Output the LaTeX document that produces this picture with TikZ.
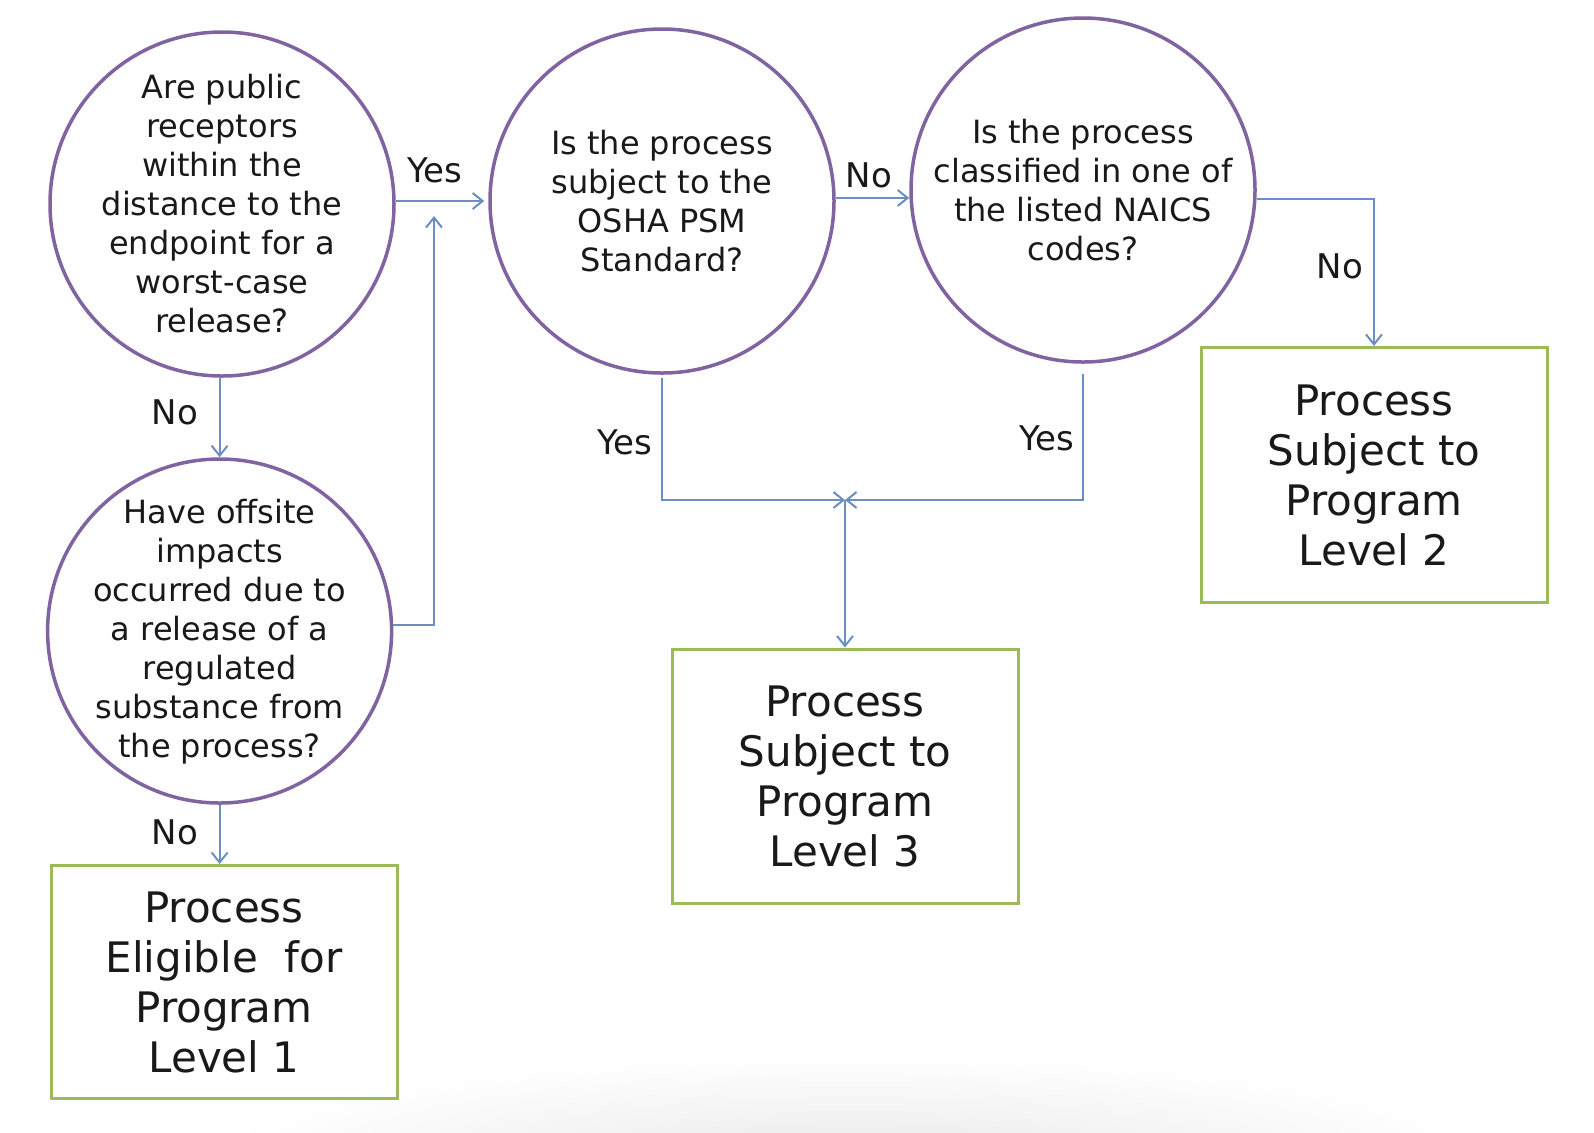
\documentclass[tikz,border=0pt]{standalone}
\usepackage{fontspec}
\setmainfont{DejaVu Sans}
\usetikzlibrary{arrows.meta}
\definecolor{circ}{HTML}{8064A2}
\definecolor{boxg}{HTML}{9BBB59}
\definecolor{linkblue}{HTML}{6D8EC2}
\begin{document}
\begin{tikzpicture}[x=0.5pt,y=-0.5pt,
  question/.style={circle, draw=circ, line width=1.75pt, minimum size=172pt, inner sep=0pt},
  qtext/.style={inner sep=0pt, align=center, text=black!90, font=\fontsize{16}{19.5}\selectfont},
  result/.style={rectangle, draw=boxg, line width=1.5pt, minimum width=173pt, inner sep=0pt, align=center, text=black!90, font=\fontsize{21}{25}\selectfont},
  link/.style={draw=linkblue, line width=1pt, -{Straight Barb[length=5pt,width=8pt]}},
  lab/.style={font=\fontsize{17}{20}\selectfont, inner sep=0pt, text=black!90}]
\path[use as bounding box, fill=white] (0,0) rectangle (1594,1132);
\shade[inner color=black!9, outer color=white] (855,1165) ellipse (650 and 110);

\node[question] (q1) at (222,204) {};
\node[qtext] (q1t) at (q1.center) {Are public\\receptors\\within the\\distance to the\\endpoint for a\\worst-case\\release?};
\node[question] (q2) at (219.6,631) {};
\node[qtext] (q2t) at ([yshift=-0.5pt]q2.center) {Have offsite\\impacts\\occurred due to\\a release of a\\regulated\\substance from\\the process?};
\node[question] (q3) at (662,201) {};
\node[qtext] (q3t) at (q3.center) {Is the process\\subject to the\\OSHA PSM\\Standard?};
\node[question] (q4) at (1083,190) {};
\node[qtext] (q4t) at (q4.center) {Is the process\\classified in one of\\the listed NAICS\\codes?};

\node[result, minimum height=116.5pt] (r1) at (224,982) {Process\\Eligible\ \ for\\Program\\Level 1};
\node[result, minimum height=127pt] (r3) at (845,776) {Process\\Subject to\\Program\\Level 3};
\node[result, minimum height=127.5pt] (r2) at (1374,475) {Process\\Subject to\\Program\\Level 2};

\coordinate (j1) at (434,216);
\coordinate (m) at (845,500);

\draw[link] (q2.north |- q1.south) -- (q2.north);
\draw[link] (q2.south) -- (q2.south |- r1.north);
\draw[link] (q2.2) -| (j1);
\draw[link, shorten >=2pt] (q1.east |- q3.west) -- (q3.west);
\draw[link] (q3.1) -- (q3.1 -| q4.west);
\draw[link, shorten <=1.5pt] (q3.south) |- (m);
\draw[link, shorten <=5pt] (q4.south) |- (m);
\draw[link] (m) -- (r3.north);
\draw[link] (q4.-3) -| (r2.north);

\node[lab] (l1) at (435,170) {Yes};
\node[lab] (l2) at (175,412) {No};
\node[lab] (l3) at (175,832) {No};
\node[lab] (l4) at (869,175) {No};
\node[lab] (l5) at (625,442) {Yes};
\node[lab] (l6) at (1047,438) {Yes};
\node[lab] (l7) at (1340,266) {No};
\end{tikzpicture}
\end{document}
